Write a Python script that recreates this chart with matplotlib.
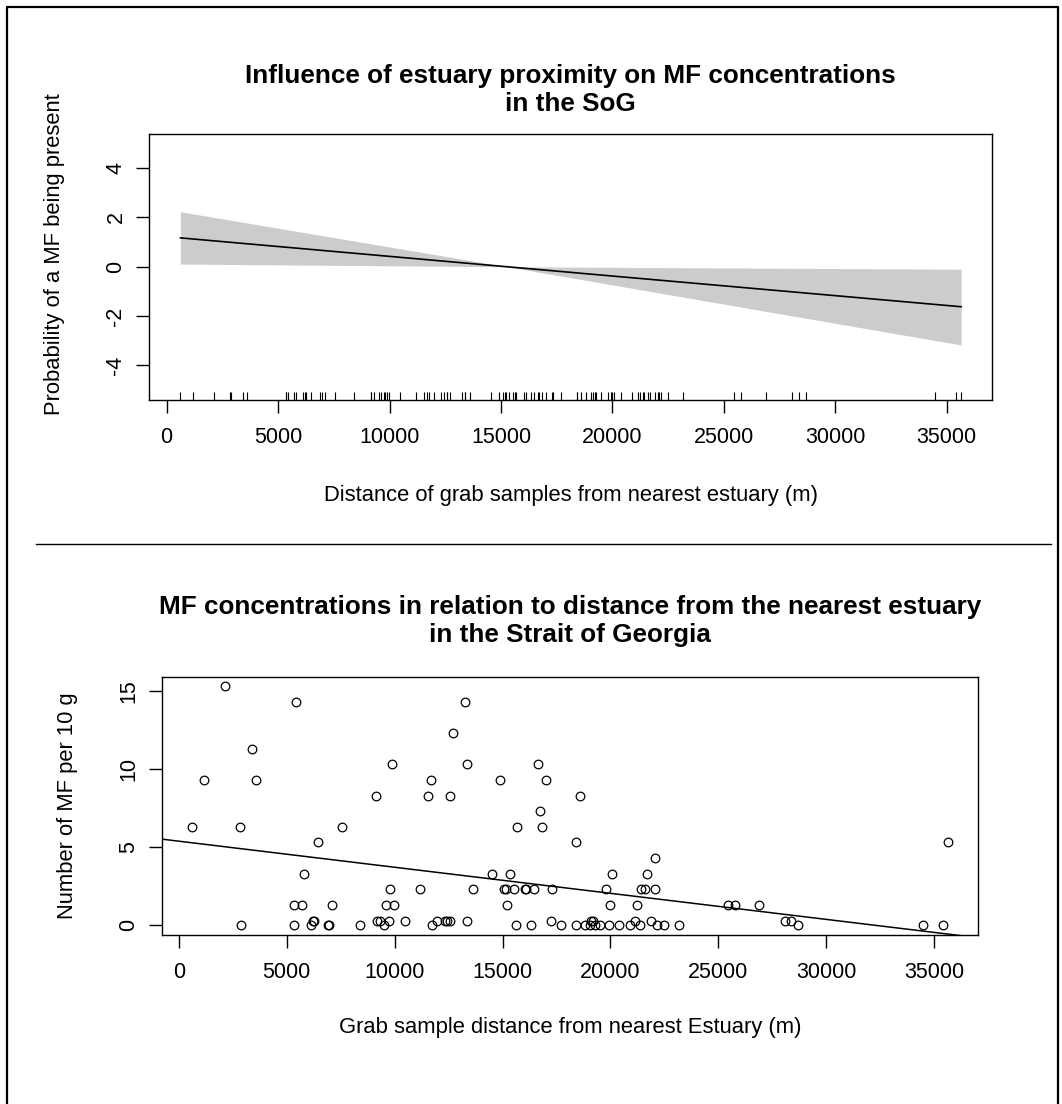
import matplotlib
matplotlib.use("Agg")
import matplotlib.pyplot as plt
from matplotlib.lines import Line2D

plt.rcParams['font.family'] = ['Liberation Sans', 'DejaVu Sans']
plt.rcParams['axes.unicode_minus'] = False

W, H = 1062, 1104

# grab samples: distance from nearest estuary (m) and MF per 10 g
dist = [618, 1174, 2132, 2827, 2904, 3414, 3599, 5345, 5345, 5422,
        5700, 5793, 6117, 6200, 6250, 6457, 6900, 6950, 7090, 7553,
        8388, 9160, 9191, 9314, 9515, 9623, 9747, 9809, 9886, 9963,
        10473, 11183, 11554, 11693, 11755, 11987, 12326, 12434, 12558, 12589,
        12713, 13253, 13377, 13377, 13624, 14535, 14906, 15076, 15184, 15230,
        15369, 15524, 15617, 15678, 16034, 16111, 16343, 16466, 16651, 16729,
        16853, 17038, 17270, 17316, 17702, 18397, 18428, 18600, 18814, 19046,
        19120, 19200, 19277, 19509, 19818, 19942, 19973, 20081, 20405, 20899,
        21131, 21255, 21363, 21440, 21594, 21703, 21903, 22058, 22089, 22166,
        22490, 23185, 25456, 25765, 26877, 28082, 28391, 28700, 34492, 35419,
        35651]
mf = [6.3, 9.3, 15.3, 6.3, 0, 11.3, 9.3, 1.3, 0, 14.3,
      1.3, 3.3, 0, 0.3, 0.3, 5.3, 0, 0, 1.3, 6.3,
      0, 8.3, 0.3, 0.3, 0, 1.3, 0.3, 2.3, 10.3, 1.3,
      0.3, 2.3, 8.3, 9.3, 0, 0.3, 0.3, 0.3, 0.3, 8.3,
      12.3, 14.3, 10.3, 0.3, 2.3, 3.3, 9.3, 2.3, 2.3, 1.3,
      3.3, 2.3, 0, 6.3, 2.3, 2.3, 0, 2.3, 10.3, 7.3,
      6.3, 9.3, 0.3, 2.3, 0, 5.3, 0, 8.3, 0, 0,
      0.3, 0.3, 0, 0, 2.3, 0, 1.3, 3.3, 0, 0,
      0.3, 1.3, 0, 2.3, 2.3, 3.3, 0.3, 2.3, 4.3, 0,
      0, 0, 1.3, 1.3, 1.3, 0.3, 0.3, 0, 0, 0,
      5.3]

# linear fit shown in the lower panel
fit_intercept = 5.38
fit_slope = -1.667e-4

# smooth term of the upper panel with its band
term_x = [618, 15270, 35651]
term_fit = [1.17, 0.0, -1.62]
term_upper = [2.23, 0.0, -0.1]
term_lower = [0.11, 0.0, -3.17]

x_ticks = [0, 5000, 10000, 15000, 20000, 25000, 30000, 35000]
top_yticks = [-4, -2, 0, 2, 4]
bot_yticks = [0, 5, 10, 15]

xlim = (-780, 37050)


def add_ax(left, top, right, bottom):
    return fig.add_axes([left / W, 1 - bottom / H, (right - left) / W, (bottom - top) / H])


def style(ax):
    for s in ax.spines.values():
        s.set_linewidth(1.0)
    ax.tick_params(direction='out', length=9.5, width=1.0, labelsize=15.5, color='black')
    ax.tick_params(axis='x', pad=10)
    ax.tick_params(axis='y', pad=7)
    for lab in ax.get_yticklabels():
        lab.set_rotation(90)
        lab.set_va('center')


fig = plt.figure(figsize=(W / 100, H / 100), dpi=100)

# ---- top panel
ax1 = add_ax(149.3, 134, 992.3, 400)
ax1.fill_between(term_x, term_lower, term_upper, color='#CCCCCC', lw=0)
ax1.plot(term_x, term_fit, color='black', lw=1.2)
# rug of sample distances along the bottom
ax1.vlines(dist, 0, 0.03, color='black', lw=0.8, transform=ax1.get_xaxis_transform())
ax1.set_xlim(xlim)
ax1.set_ylim(-5.4, 5.38)
ax1.set_xticks(x_ticks)
ax1.set_yticks(top_yticks)
style(ax1)

cx1 = (149.3 + 992.3) / 2
fig.text(cx1 / W, 1 - 76 / H, 'Influence of estuary proximity on MF concentrations',
         ha='center', va='center', fontsize=18.8, fontweight='bold')
fig.text(cx1 / W, 1 - 104 / H, 'in the SoG',
         ha='center', va='center', fontsize=18.8, fontweight='bold')
fig.text(cx1 / W, 1 - 496 / H, 'Distance of grab samples from nearest estuary (m)',
         ha='center', va='center', fontsize=15.8)
fig.text(55 / W, 1 - 254 / H, 'Probability of a MF being present',
         ha='center', va='center', rotation=90, fontsize=15.8)

# ---- bottom panel
ax2 = add_ax(162, 676.7, 978.3, 935)
ax2.plot(dist, mf, 'o', mfc='none', mec='black', ms=6.2, mew=0.9)
ax2.plot(xlim, [fit_intercept + fit_slope * v for v in xlim], color='black', lw=1.1)
ax2.set_xlim(xlim)
ax2.set_ylim(-0.62, 15.9)
ax2.set_xticks(x_ticks)
ax2.set_yticks(bot_yticks)
style(ax2)

cx2 = (162 + 978.3) / 2
fig.text(cx2 / W, 1 - 607 / H, 'MF concentrations in relation to distance from the nearest estuary',
         ha='center', va='center', fontsize=18.8, fontweight='bold')
fig.text(cx2 / W, 1 - 635 / H, 'in the Strait of Georgia',
         ha='center', va='center', fontsize=18.8, fontweight='bold')
fig.text(cx2 / W, 1 - 1028 / H, 'Grab sample distance from nearest Estuary (m)',
         ha='center', va='center', fontsize=15.8)
fig.text(68 / W, 1 - 806 / H, 'Number of MF per 10 g',
         ha='center', va='center', rotation=90, fontsize=15.8)

# divider and outer frame
fig.add_artist(Line2D([36 / W, 1050.7 / W], [1 - 544.3 / H] * 2, color='black', lw=1.0))
fig.add_artist(Line2D([7 / W, 7 / W, 1058 / W, 1058 / W],
                      [0, 1 - 7 / H, 1 - 7 / H, 0], color='black', lw=1.6))

fig.savefig('out.png', dpi=100)
